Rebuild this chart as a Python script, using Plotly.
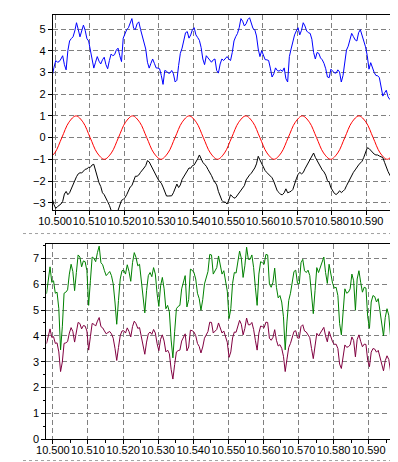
import plotly.graph_objects as go

# sample positions (uniform sampling grid shared by the noisy series)
X_START = 10.4982
X_STEP = 0.0005
x_vals = [round(X_START + X_STEP * i, 4) for i in range(200)]

blue_vals = [2.86, 2.86, 2.86, 3.24, 3.55, 3.47, 3.5, 3.62, 3.77, 3.36,
             3.12, 4.0, 4.45, 4.56, 4.64, 4.91, 5.29, 4.98, 4.64, 4.91,
             5.18, 4.94, 4.56, 4.45, 4.08, 3.55, 3.2, 3.47, 3.73, 3.52,
             3.39, 3.58, 3.7, 3.36, 3.17, 3.55, 3.85, 3.77, 3.82, 4.03,
             4.12, 3.77, 3.5, 4.58, 4.83, 4.97, 5.06, 5.33, 5.48, 5.03,
             4.98, 5.24, 5.33, 4.98, 4.64, 4.45, 4.08, 3.47, 3.2, 3.42,
             3.62, 3.42, 3.21, 3.2, 3.17, 2.86, 2.45, 3.09, 3.06, 2.97,
             2.97, 3.09, 2.94, 2.56, 2.64, 3.32, 3.88, 4.12, 4.5, 4.83,
             4.88, 4.58, 4.73, 4.98, 5.06, 4.73, 4.61, 4.48, 4.15, 3.62,
             3.36, 3.77, 3.67, 3.55, 3.47, 3.58, 3.62, 3.09, 2.97, 3.39,
             3.62, 3.55, 3.62, 3.73, 3.62, 3.55, 3.92, 4.45, 4.65, 4.79,
             5.06, 5.48, 5.36, 5.14, 5.24, 5.44, 5.52, 5.21, 5.02, 4.97,
             4.68, 4.08, 3.73, 4.0, 3.77, 3.59, 3.58, 3.55, 3.2, 2.79,
             2.94, 3.21, 3.09, 3.06, 3.12, 3.05, 3.21, 2.71, 2.56, 3.73,
             4.08, 4.42, 4.73, 4.91, 5.06, 4.73, 4.94, 5.29, 5.14, 4.91,
             4.83, 4.8, 4.53, 3.92, 3.62, 3.92, 3.88, 3.67, 3.58, 3.42,
             3.17, 2.79, 2.76, 3.15, 3.06, 2.98, 2.97, 3.12, 3.02, 2.56,
             2.86, 3.55, 4.03, 4.21, 4.53, 4.8, 4.65, 4.5, 4.45, 4.83,
             4.97, 4.68, 4.52, 4.18, 3.77, 3.15, 3.45, 3.17, 3.0, 2.86,
             2.85, 2.76, 2.33, 1.91, 2.06, 2.18, 1.88, 1.76, 1.73, 1.8]

black_vals = [-2.82, -2.82, -2.82, -3.09, -3.26, -3.18, -3.12, -3.06, -2.94, -2.6,
              -2.48, -2.63, -2.54, -2.34, -2.18, -1.98, -1.8, -1.67, -1.62, -1.63,
              -1.53, -1.46, -1.44, -1.37, -1.37, -1.26, -1.23, -1.56, -1.78, -2.08,
              -2.25, -2.54, -2.63, -2.77, -2.95, -3.12, -3.43, -3.58, -3.58, -3.5,
              -3.35, -3.09, -2.89, -2.85, -2.77, -2.63, -2.45, -2.28, -2.21, -1.96,
              -1.78, -1.78, -1.72, -1.6, -1.52, -1.4, -1.29, -1.06, -1.12, -1.29,
              -1.43, -1.6, -1.75, -1.9, -2.02, -2.1, -2.28, -2.54, -2.69, -2.69,
              -2.69, -2.68, -2.54, -2.3, -2.14, -2.3, -2.18, -1.93, -1.78, -1.67,
              -1.52, -1.4, -1.41, -1.29, -1.26, -1.14, -0.98, -0.8, -0.98, -1.14,
              -1.23, -1.32, -1.47, -1.6, -1.75, -1.93, -2.05, -2.18, -2.48, -2.74,
              -2.89, -2.97, -2.97, -3.06, -2.89, -2.63, -2.69, -2.79, -2.76, -2.66,
              -2.54, -2.44, -2.33, -2.21, -1.95, -1.81, -1.72, -1.64, -1.53, -1.4,
              -1.21, -0.86, -1.03, -1.2, -1.37, -1.52, -1.61, -1.69, -1.76, -1.85,
              -2.02, -2.28, -2.45, -2.53, -2.62, -2.63, -2.54, -2.36, -2.54, -2.51,
              -2.47, -2.39, -2.08, -1.9, -1.7, -1.6, -1.67, -1.61, -1.44, -1.29,
              -1.12, -0.97, -0.8, -0.71, -0.91, -1.06, -1.2, -1.34, -1.49, -1.58,
              -1.73, -1.98, -2.05, -2.31, -2.47, -2.57, -2.62, -2.56, -2.45, -2.53,
              -2.47, -2.39, -2.22, -2.05, -1.9, -1.73, -1.6, -1.49, -1.35, -1.26,
              -1.17, -1.09, -0.91, -0.65, -0.47, -0.5, -0.6, -0.68, -0.76, -0.8,
              -0.8, -0.85, -0.88, -0.92, -1.14, -1.41, -1.56, -1.72, -1.85, -1.98]

# red curve: values read at its peaks, troughs, crossings and half-way points
red_x = [10.49788, 10.49992, 10.50197, 10.50401, 10.50605, 10.50810, 10.51014, 10.51218,
         10.51423, 10.51627, 10.51832, 10.52036, 10.52240, 10.52445, 10.52649, 10.52853,
         10.53058, 10.53262, 10.53467, 10.53671, 10.53875, 10.54080, 10.54284, 10.54488,
         10.54693, 10.54897, 10.55102, 10.55306, 10.55510, 10.55715, 10.55919, 10.56123,
         10.56328, 10.56532, 10.56737, 10.56941, 10.57145, 10.57350, 10.57554, 10.57758,
         10.57963, 10.58167, 10.58372, 10.58576, 10.58780, 10.58985, 10.59189, 10.59393,
         10.59598, 10.59802]
red_vals = [-1, -0.707, 0, 0.707, 1, 0.707, 0, -0.707,
            -1, -0.707, 0, 0.707, 1, 0.707, 0, -0.707,
            -1, -0.707, 0, 0.707, 1, 0.707, 0, -0.707,
            -1, -0.707, 0, 0.707, 1, 0.707, 0, -0.707,
            -1, -0.707, 0, 0.707, 1, 0.707, 0, -0.707,
            -1, -0.707, 0, 0.707, 1, 0.707, 0, -0.707,
            -1, -0.707]

green_vals = [5.63, 6.26, 6.67, 6.07, 6.13, 5.65, 5.69, 5.05, 3.46, 4.35,
              5.65, 5.69, 5.78, 6.39, 6.77, 6.49, 5.75, 6.45, 7.13, 7.05,
              6.67, 6.9, 6.87, 6.52, 5.18, 6.13, 7.05, 7.0, 6.87, 7.22,
              7.47, 6.83, 6.75, 6.52, 6.33, 6.41, 6.49, 6.33, 6.01, 5.31,
              4.45, 5.37, 6.2, 6.52, 6.54, 6.39, 6.75, 6.49, 6.11, 6.83,
              7.22, 7.03, 6.71, 6.77, 6.07, 5.56, 4.89, 5.75, 6.33, 6.45,
              6.29, 6.64, 6.39, 5.63, 5.14, 5.94, 6.26, 5.82, 5.05, 5.18,
              4.93, 3.84, 3.15, 4.16, 5.05, 5.14, 5.18, 5.82, 6.05, 6.33,
              5.12, 5.4, 6.58, 6.54, 6.45, 6.2, 5.65, 5.44, 4.99, 5.4,
              6.01, 6.29, 6.49, 7.15, 7.13, 6.39, 6.54, 6.64, 7.09, 6.77,
              6.39, 6.52, 6.13, 5.73, 4.67, 5.05, 6.03, 6.45, 6.43, 6.83,
              7.28, 7.0, 6.26, 6.71, 7.43, 6.96, 6.96, 7.13, 6.64, 5.88,
              5.18, 6.39, 6.87, 6.83, 6.77, 7.15, 7.13, 6.01, 5.88, 6.07,
              6.62, 5.88, 5.47, 5.56, 5.31, 4.74, 3.46, 4.54, 5.37, 5.65,
              6.07, 6.49, 6.54, 6.03, 6.01, 6.83, 6.96, 6.52, 6.45, 6.54,
              6.33, 5.56, 4.86, 5.75, 6.64, 6.45, 6.64, 6.83, 7.05, 6.45,
              6.03, 6.77, 6.41, 6.03, 5.85, 5.88, 5.56, 4.48, 4.04, 5.14,
              5.82, 5.65, 5.69, 5.82, 6.39, 6.13, 4.99, 6.2, 6.52, 6.07,
              5.69, 5.88, 5.85, 4.74, 4.29, 5.31, 5.56, 5.52, 5.31, 5.44,
              4.93, 4.35, 4.0, 4.71, 5.05, 4.8, 4.0, 3.95, 3.95, 3.95]

purple_vals = [3.70, 4.04, 4.27, 3.94, 3.97, 3.71, 3.73, 3.38, 2.62, 2.99,
               3.71, 3.73, 3.78, 4.11, 4.32, 4.17, 3.76, 4.15, 4.52, 4.48,
               4.27, 4.40, 4.38, 4.19, 3.45, 3.97, 4.48, 4.45, 4.38, 4.57,
               4.71, 4.36, 4.31, 4.19, 4.08, 4.13, 4.17, 4.08, 3.91, 3.52,
               3.05, 3.55, 4.01, 4.19, 4.20, 4.11, 4.31, 4.17, 3.96, 4.36,
               4.57, 4.47, 4.29, 4.32, 3.94, 3.66, 3.29, 3.76, 4.08, 4.15,
               4.06, 4.25, 4.11, 3.70, 3.43, 3.87, 4.04, 3.80, 3.38, 3.45,
               3.31, 2.71, 2.33, 2.89, 3.38, 3.43, 3.45, 3.80, 3.93, 4.08,
               3.42, 3.57, 4.22, 4.20, 4.15, 4.01, 3.71, 3.59, 3.34, 3.57,
               3.91, 4.06, 4.17, 4.53, 4.52, 4.11, 4.20, 4.25, 4.50, 4.32,
               4.11, 4.19, 3.97, 3.75, 3.17, 3.38, 3.92, 4.15, 4.14, 4.36,
               4.60, 4.45, 4.04, 4.29, 4.69, 4.43, 4.43, 4.52, 4.25, 3.83,
               3.45, 4.11, 4.38, 4.36, 4.32, 4.53, 4.52, 3.91, 3.83, 3.94,
               4.24, 3.83, 3.61, 3.66, 3.52, 3.21, 2.62, 3.10, 3.55, 3.71,
               3.94, 4.17, 4.20, 3.92, 3.91, 4.36, 4.43, 4.19, 4.15, 4.05,
               3.93, 3.51, 3.12, 3.61, 4.10, 4.00, 4.10, 4.21, 4.33, 4.00,
               3.77, 4.17, 3.98, 3.77, 3.67, 3.68, 3.51, 2.91, 2.74, 3.28,
               3.65, 3.56, 3.58, 3.65, 3.96, 3.82, 3.19, 3.86, 4.04, 3.79,
               3.58, 3.68, 3.67, 3.06, 2.81, 3.37, 3.51, 3.49, 3.37, 3.44,
               3.16, 2.84, 2.65, 3.04, 3.23, 3.09, 2.65, 2.58, 2.58, 2.58]

x_tick_vals = [10.50, 10.51, 10.52, 10.53, 10.54, 10.55, 10.56, 10.57, 10.58, 10.59]
x_tick_text = ["10.500", "10.510", "10.520", "10.530", "10.540",
               "10.550", "10.560", "10.570", "10.580", "10.590"]
x_minor_ticks = [10.505, 10.515, 10.525, 10.535, 10.545, 10.555, 10.565, 10.575, 10.585, 10.595]
top_y_ticks = [-3, -2, -1, 0, 1, 2, 3, 4, 5]
bottom_y_ticks = [0, 1, 2, 3, 4, 5, 6, 7]
bottom_y_minor = [0.5, 1.5, 2.5, 3.5, 4.5, 5.5, 6.5, 7.5]

W, H = 398, 462
GRID = "#808080"
FONT = dict(family="Arial, Liberation Sans, sans-serif", size=11, color="black")

fig = go.Figure()
line_w = 1
fig.add_trace(go.Scatter(x=x_vals, y=blue_vals, mode="lines",
                         line=dict(color="#0000FF", width=line_w), xaxis="x", yaxis="y"))
fig.add_trace(go.Scatter(x=red_x, y=red_vals, mode="lines",
                         line=dict(color="#FF0000", width=line_w, shape="spline"),
                         xaxis="x", yaxis="y"))
fig.add_trace(go.Scatter(x=x_vals, y=black_vals, mode="lines",
                         line=dict(color="#000000", width=line_w), xaxis="x", yaxis="y"))
fig.add_trace(go.Scatter(x=x_vals, y=green_vals, mode="lines",
                         line=dict(color="#008000", width=line_w), xaxis="x2", yaxis="y2"))
fig.add_trace(go.Scatter(x=x_vals, y=purple_vals, mode="lines",
                         line=dict(color="#800040", width=line_w), xaxis="x2", yaxis="y2"))

axis_common = dict(showline=True, linecolor="black", linewidth=1, mirror=True,
                   ticks="outside", ticklen=4, tickcolor="black",
                   showgrid=True, gridcolor=GRID, griddash="5px,3px", gridwidth=1,
                   zeroline=False, tickfont=FONT, tickangle=0)

fig.update_layout(
    width=W, height=H,
    margin=dict(l=0, r=0, t=0, b=0),
    paper_bgcolor="white", plot_bgcolor="white",
    showlegend=False,
    xaxis=dict(domain=[31 / W, 385 / W], range=[10.49936, 10.59778], anchor="y",
               tickvals=x_tick_vals, ticktext=x_tick_text, ticklabelstandoff=-4,
               **axis_common),
    yaxis=dict(domain=[257 / H, 455 / H], range=[-3.35, 5.65], anchor="x",
               tickvals=top_y_ticks, **axis_common),
    xaxis2=dict(domain=[24.3 / W, 385.3 / W], range=[10.49816, 10.59713], anchor="y2",
                tickvals=x_tick_vals, ticktext=x_tick_text, ticklabelstandoff=-4,
                minor=dict(tickvals=x_minor_ticks, ticks="outside",
                           ticklen=3, tickcolor="black", showgrid=False),
                **axis_common),
    yaxis2=dict(domain=[25 / H, 222.7 / H], range=[0, 7.546], anchor="x2",
                tickvals=bottom_y_ticks,
                minor=dict(tickvals=bottom_y_minor, ticks="outside",
                           ticklen=2, tickcolor="black", showgrid=False),
                **axis_common),
    shapes=[
        dict(type="line", xref="paper", yref="paper", x0=0, x1=394 / W,
             y0=(H - 228.5) / H, y1=(H - 228.5) / H,
             line=dict(color="#a0a0a0", width=1, dash="dot")),
        dict(type="line", xref="paper", yref="paper", x0=0, x1=394 / W,
             y0=(H - 458.5) / H, y1=(H - 458.5) / H,
             line=dict(color="#a0a0a0", width=1, dash="dot")),
        dict(type="line", xref="paper", yref="paper", x0=393.5 / W, x1=393.5 / W,
             y0=0, y1=1, line=dict(color="#a0a0a0", width=1)),
    ],
)

fig.write_html("out.html")
